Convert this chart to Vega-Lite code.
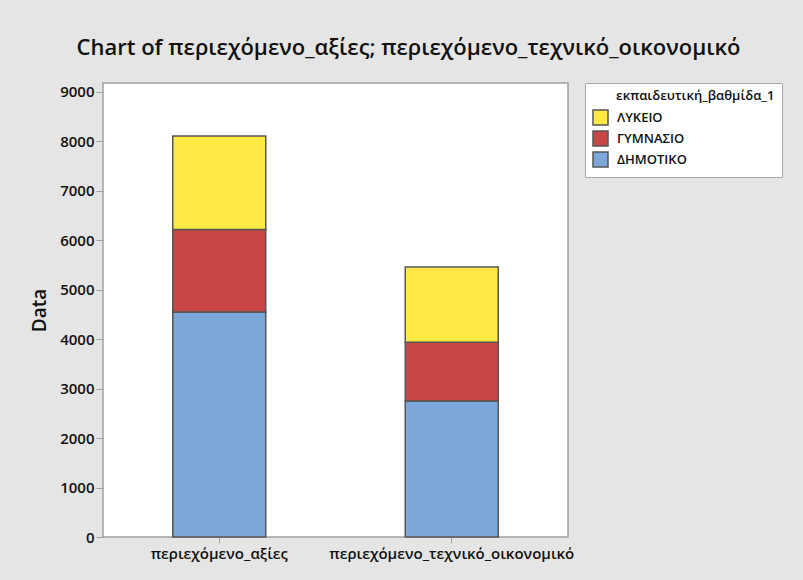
{
  "$schema": "https://vega.github.io/schema/vega-lite/v6.json",
  "autosize": "none",
  "width": 465,
  "height": 454,
  "padding": {"left": 103, "top": 83, "right": 235, "bottom": 43},
  "background": "#e5e5e5",
  "title": {
    "text": "Chart of περιεχόμενο_αξίες; περιεχόμενο_τεχνικό_οικονομικό",
    "font": "Open Sans",
    "fontSize": 22,
    "fontWeight": 600,
    "color": "#111111",
    "anchor": "middle",
    "dx": 73,
    "offset": 23
  },
  "data": {
    "values": [
      {"variable": "περιεχόμενο_αξίες", "level": "ΔΗΜΟΤΙΚΟ", "k": 1, "value": 4550},
      {"variable": "περιεχόμενο_αξίες", "level": "ΓΥΜΝΑΣΙΟ", "k": 2, "value": 1670},
      {"variable": "περιεχόμενο_αξίες", "level": "ΛΥΚΕΙΟ", "k": 3, "value": 1890},
      {"variable": "περιεχόμενο_τεχνικό_οικονομικό", "level": "ΔΗΜΟΤΙΚΟ", "k": 1, "value": 2750},
      {"variable": "περιεχόμενο_τεχνικό_οικονομικό", "level": "ΓΥΜΝΑΣΙΟ", "k": 2, "value": 1190},
      {"variable": "περιεχόμενο_τεχνικό_οικονομικό", "level": "ΛΥΚΕΙΟ", "k": 3, "value": 1520}
    ]
  },
  "mark": {"type": "bar", "stroke": "#555555", "strokeWidth": 1.5},
  "encoding": {
    "x": {
      "field": "variable",
      "type": "nominal",
      "sort": null,
      "scale": {"paddingInner": 0.6, "paddingOuter": 0.3},
      "axis": {
        "title": null,
        "labelAngle": 0,
        "labelLimit": 0,
        "labelFont": "Open Sans",
        "labelFontSize": 15,
        "labelFontWeight": 600,
        "labelColor": "#111111",
        "labelPadding": 3,
        "tickColor": "#a0a0a0",
        "tickSize": 6,
        "domain": false
      }
    },
    "y": {
      "field": "value",
      "type": "quantitative",
      "aggregate": "sum",
      "stack": "zero",
      "scale": {"domain": [0, 9180], "nice": false},
      "axis": {
        "title": "Data",
        "titleFont": "Open Sans",
        "titleFontSize": 19,
        "titleFontWeight": 600,
        "titleColor": "#111111",
        "titlePadding": 10,
        "values": [0, 1000, 2000, 3000, 4000, 5000, 6000, 7000, 8000, 9000],
        "format": "d",
        "labelFont": "Open Sans",
        "labelFontSize": 15,
        "labelFontWeight": 600,
        "labelColor": "#111111",
        "labelPadding": 2,
        "tickColor": "#a0a0a0",
        "tickSize": 7,
        "grid": false,
        "domain": false
      }
    },
    "color": {
      "field": "level",
      "type": "nominal",
      "sort": ["ΛΥΚΕΙΟ", "ΓΥΜΝΑΣΙΟ", "ΔΗΜΟΤΙΚΟ"],
      "scale": {
        "domain": ["ΛΥΚΕΙΟ", "ΓΥΜΝΑΣΙΟ", "ΔΗΜΟΤΙΚΟ"],
        "range": ["#FFE945", "#C74646", "#7DA6D9"]
      },
      "legend": {
        "title": "εκπαιδευτική_βαθμίδα_1",
        "orient": "none",
        "legendX": 482,
        "legendY": 0,
        "fillColor": "#ffffff",
        "strokeColor": "#a8a8a8",
        "padding": 7,
        "titleFont": "Open Sans",
        "titleFontSize": 13,
        "titleFontWeight": 600,
        "titleColor": "#111111",
        "titlePadding": 6,
        "labelFont": "Open Sans",
        "labelFontSize": 13,
        "labelFontWeight": 600,
        "labelColor": "#111111",
        "labelOffset": 8,
        "symbolType": "square",
        "symbolSize": 225,
        "symbolStrokeColor": "#555555",
        "symbolStrokeWidth": 1.5,
        "symbolOpacity": 1,
        "rowPadding": 0,
        "encode": {
          "title": {"update": {"dx": {"value": 24}}}
        }
      }
    },
    "order": {"field": "k", "type": "quantitative", "sort": "ascending"}
  },
  "config": {
    "view": {"fill": "#ffffff", "stroke": "#a0a0a0", "strokeWidth": 1.5}
  }
}
